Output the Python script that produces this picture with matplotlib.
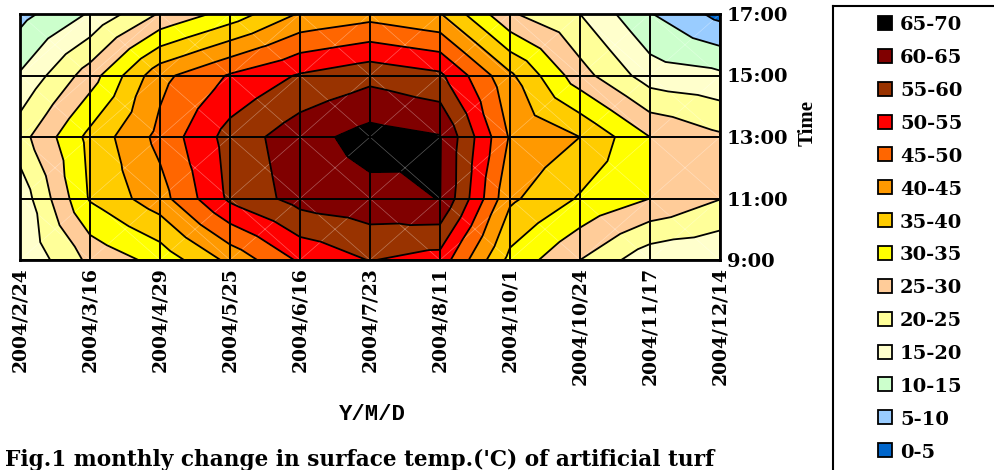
import numpy as np
import matplotlib
matplotlib.use('Agg')
import matplotlib.pyplot as plt
import matplotlib.tri as mtri
from matplotlib.patches import Rectangle

# surface temperature ('C) of artificial turf, rows = time of day
dates = ['2004/2/24', '2004/3/16', '2004/4/29', '2004/5/25', '2004/6/16', '2004/7/23',
         '2004/8/11', '2004/10/1', '2004/10/24', '2004/11/17', '2004/12/14']
times = ['9:00', '11:00', '13:00', '15:00', '17:00']

temp_0900 = [15.3, 26.2, 31.7, 41.3, 50.8, 55.2, 53.0, 33.5, 25.0, 16.5, 15.2]
temp_1100 = [16.7, 35.5, 43.0, 56.0, 62.0, 63.5, 65.1, 41.0, 34.5, 30.0, 25.2]
temp_1300 = [23.0, 36.5, 46.5, 57.0, 63.0, 67.0, 65.3, 44.5, 40.0, 30.0, 25.8]
temp_1500 = [15.5, 27.5, 43.5, 50.5, 55.5, 58.5, 56.0, 41.0, 27.0, 17.5, 16.0]
temp_1700 = [8.3, 15.5, 25.5, 32.0, 40.5, 43.0, 40.3, 25.6, 20.0, 10.3, 3.5]

levels = list(range(0, 75, 5))
band_colors = ['#0066CC', '#99CCFF', '#CCFFCC', '#FFFFCC', '#FFFF99', '#FFCC99', '#FFFF00',
               '#FFCC00', '#FF9900', '#FF6600', '#FF0000', '#993300', '#800000', '#000000']
band_labels = ['%d-%d' % (levels[i], levels[i + 1]) for i in range(len(levels) - 1)]

z = np.array([temp_0900, temp_1100, temp_1300, temp_1500, temp_1700])
ny, nx = z.shape

# excel style: every cell split in 4 triangles around the cell mean
px, py = np.meshgrid(np.arange(nx), np.arange(ny))
px = list(px.ravel().astype(float))
py = list(py.ravel().astype(float))
pz = list(z.ravel())
triangles = []
for j in range(ny - 1):
    for i in range(nx - 1):
        a = j * nx + i
        b = a + 1
        c = a + nx + 1
        d = a + nx
        k = len(px)
        px.append(i + 0.5)
        py.append(j + 0.5)
        pz.append(z[j:j + 2, i:i + 2].mean())
        triangles += [[a, b, k], [b, c, k], [c, d, k], [d, a, k]]
tri = mtri.Triangulation(px, py, triangles)

serif = 'DejaVu Serif'

fig = plt.figure(figsize=(9.95, 4.70), dpi=100)
ax = fig.add_axes([20 / 995, 210 / 470, 700 / 995, 246 / 470])
ax.tricontourf(tri, pz, levels=levels, colors=band_colors)
ax.triplot(tri, color='white', lw=0.5, alpha=0.35)
ax.tricontour(tri, pz, levels=levels, colors='black', linewidths=1.3)
for i in range(nx):
    ax.axvline(i, color='black', lw=1.4)
for j in range(ny):
    ax.axhline(j, color='black', lw=1.4)
ax.set_xlim(0, nx - 1)
ax.set_ylim(0, ny - 1)
for s in ax.spines.values():
    s.set_linewidth(2)

ax.set_xticks(range(nx))
ax.set_xticklabels(dates, rotation=90, fontfamily=serif, fontweight='bold', fontsize=13.5)
ax.yaxis.tick_right()
ax.set_yticks(range(ny))
ax.set_yticklabels(times, fontfamily=serif, fontweight='bold', fontsize=14)
ax.tick_params(length=0, pad=5)

fig.text(808 / 995, 1 - 123 / 470, 'Time', rotation=90, ha='center', va='center',
         fontfamily='Liberation Serif', fontweight='bold', fontsize=15)
fig.text(372 / 995, 1 - 415 / 470, 'Y/M/D', ha='center', va='center',
         fontfamily='Liberation Mono', fontweight='bold', fontsize=16)
fig.text(5 / 995, 1 - 460 / 470, "Fig.1 monthly change in surface temp.('C) of artificial turf",
         ha='left', va='center', fontfamily=serif, fontweight='bold', fontsize=15.6)

# legend box
lax = fig.add_axes([833 / 995, -20 / 470, 180 / 995, 484 / 470])
lax.set_xlim(0, 180)
lax.set_ylim(484, 0)
lax.set_xticks([])
lax.set_yticks([])
for s in lax.spines.values():
    s.set_linewidth(1.5)
for k in range(len(band_labels)):
    b = len(band_labels) - 1 - k
    yc = 19.5 + k * 32.85
    lax.add_patch(Rectangle((45, yc - 9.5), 14, 14, facecolor=band_colors[b],
                            edgecolor='black', lw=1.3))
    lax.text(67, yc, band_labels[b], ha='left', va='center', fontfamily=serif,
             fontweight='bold', fontsize=14)

fig.savefig('out.png', dpi=100)
